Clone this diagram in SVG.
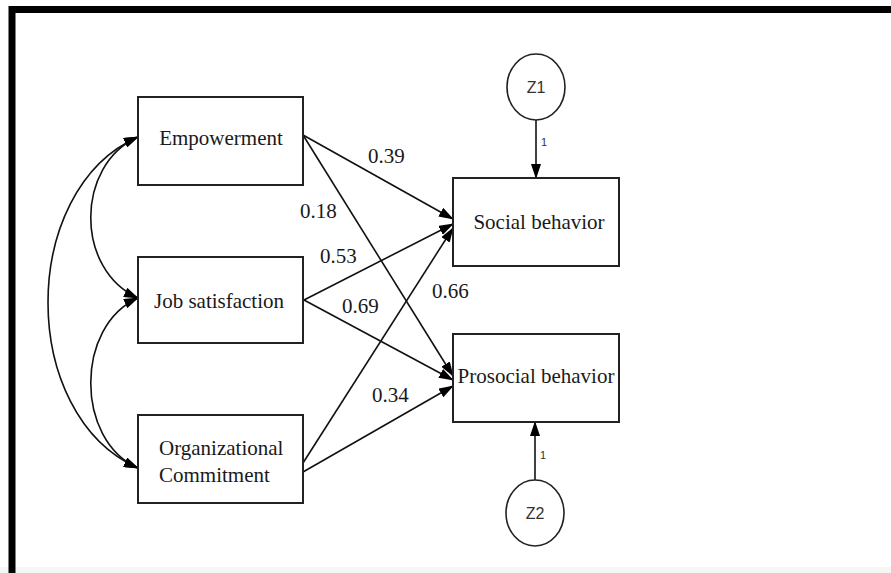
<svg xmlns="http://www.w3.org/2000/svg" width="891" height="573" viewBox="0 0 891 573">
<style>
.box{fill:#fff;stroke:#222;stroke-width:2}
.lat{fill:#fff;stroke:#222;stroke-width:1.6}
.t{font-family:"Liberation Serif","Times New Roman",serif;font-size:21px;fill:#1a1a1a}
.s{font-family:"Liberation Sans",Arial,sans-serif;fill:#333}
.c{fill:none;stroke:#111;stroke-width:1.6}
</style>
<defs>
<marker id="ah" markerWidth="15" markerHeight="10" refX="14" refY="5" orient="auto-start-reverse" markerUnits="userSpaceOnUse">
<path d="M0,0 L15,5 L0,10 Z" fill="#000"/>
</marker>
</defs>
<rect x="0" y="0" width="891" height="573" fill="#fff"/>
<rect x="0" y="567" width="891" height="6" fill="#f6f6f6"/>
<path d="M12,573 L12,9.5 L891,9.5" fill="none" stroke="#000" stroke-width="7"/>

<g id="connectors">
<path class="c" d="M138,137 C18,190 18,415 138,468" marker-start="url(#ah)" marker-end="url(#ah)"/>
<path class="c" d="M138,137 C75,165 75,270 138,298" marker-start="url(#ah)" marker-end="url(#ah)"/>
<path class="c" d="M138,298 C75,326 75,440 138,468" marker-start="url(#ah)" marker-end="url(#ah)"/>
<line class="c" x1="303" y1="135" x2="453" y2="219" marker-end="url(#ah)"/>
<line class="c" x1="303" y1="135" x2="453" y2="376" marker-end="url(#ah)"/>
<line class="c" x1="304" y1="300" x2="453" y2="224" marker-end="url(#ah)"/>
<line class="c" x1="304" y1="300" x2="453" y2="380" marker-end="url(#ah)"/>
<line class="c" x1="303" y1="463" x2="453" y2="228" marker-end="url(#ah)"/>
<line class="c" x1="303" y1="472" x2="453" y2="386" marker-end="url(#ah)"/>
<line class="c" x1="536" y1="120" x2="536" y2="178" marker-end="url(#ah)"/>
<line class="c" x1="535" y1="480" x2="535" y2="422" marker-end="url(#ah)"/>
<text class="t" x="368" y="163">0.39</text>
<text class="t" x="300" y="218">0.18</text>
<text class="t" x="320" y="263">0.53</text>
<text class="t" x="342" y="313">0.69</text>
<text class="t" x="432" y="298">0.66</text>
<text class="t" x="372" y="402">0.34</text>
<text class="s" x="541" y="146" font-size="11">1</text>
<text class="s" x="540" y="459" font-size="11">1</text>
</g>

<g id="empowerment">
<rect class="box" x="138" y="97" width="165" height="88"/>
<text class="t" x="221" y="145" text-anchor="middle">Empowerment</text>
</g>
<g id="job-satisfaction">
<rect class="box" x="138" y="257" width="165" height="86"/>
<text class="t" x="219" y="308" text-anchor="middle">Job satisfaction</text>
</g>
<g id="organizational-commitment">
<rect class="box" x="138" y="415" width="165" height="88"/>
<text class="t" x="159" y="455">Organizational</text>
<text class="t" x="159" y="482">Commitment</text>
</g>
<g id="social-behavior">
<rect class="box" x="453" y="178" width="166" height="88"/>
<text class="t" x="539" y="229" text-anchor="middle">Social behavior</text>
</g>
<g id="prosocial-behavior">
<rect class="box" x="453" y="334" width="166" height="88"/>
<text class="t" x="536" y="383" text-anchor="middle">Prosocial behavior</text>
</g>
<g id="z1">
<ellipse class="lat" cx="536" cy="87" rx="29" ry="33"/>
<text class="s" x="536" y="93" font-size="16" text-anchor="middle">Z1</text>
</g>
<g id="z2">
<ellipse class="lat" cx="535" cy="513" rx="29" ry="33"/>
<text class="s" x="535" y="519" font-size="16" text-anchor="middle">Z2</text>
</g>
</svg>
